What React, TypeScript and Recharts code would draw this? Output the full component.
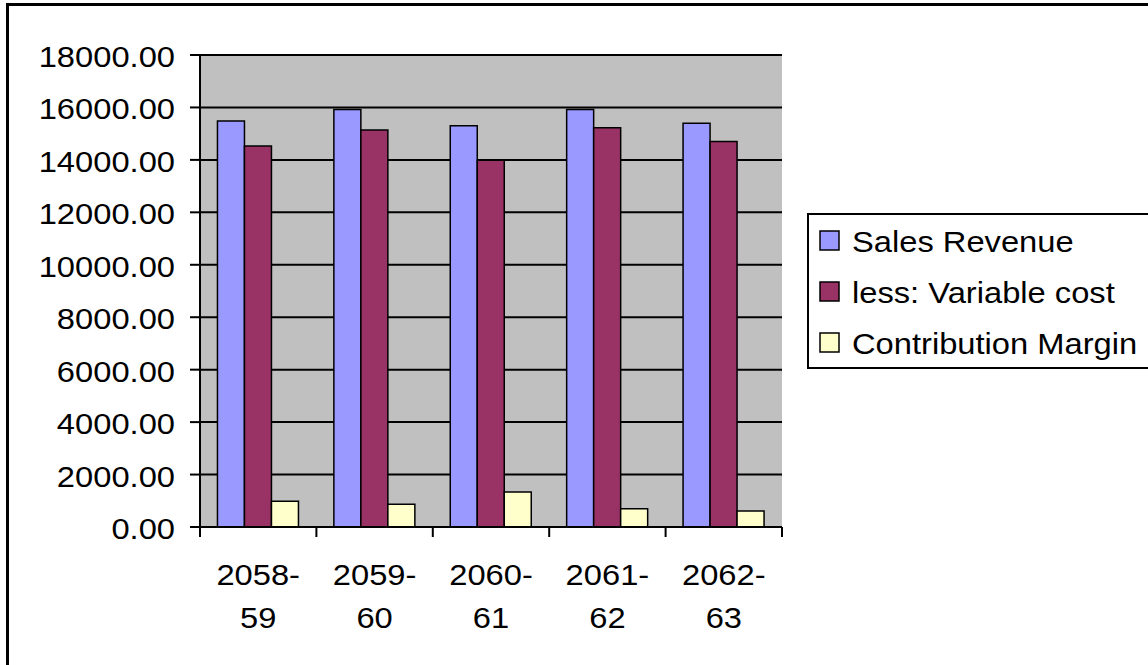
import { BarChart, Bar, XAxis, YAxis, CartesianGrid, Legend } from 'recharts';

const periods = ['2058-59', '2059-60', '2060-61', '2061-62', '2062-63'];
const salesRevenue = [15480, 15920, 15300, 15920, 15400];
const variableCost = [14530, 15140, 13990, 15230, 14700];
const contributionMargin = [980, 870, 1330, 700, 610];
const yTicks = [0, 2000, 4000, 6000, 8000, 10000, 12000, 14000, 16000, 18000];

const series = [
  { key: 'sales', name: 'Sales Revenue', color: '#9999FF' },
  { key: 'variable', name: 'less: Variable cost', color: '#993366' },
  { key: 'margin', name: 'Contribution Margin', color: '#FFFFCC' },
];

const data = periods.map((period, i) => ({
  period,
  sales: salesRevenue[i],
  variable: variableCost[i],
  margin: contributionMargin[i],
}));

const FONT = '"Liberation Sans", Arial, sans-serif';
const STRETCH = 'scale(1.09,1)';

const ValueTick = (props: any) => {
  const { x, y, payload } = props;
  return (
    <g transform={`translate(${x},${y})`}>
      <text x={0} y={0} dy={12} textAnchor="end" fontFamily={FONT} fontSize={30} fill="#000" transform={STRETCH}>
        {Number(payload.value).toFixed(2)}
      </text>
    </g>
  );
};

// ticks sit between categories like in the spreadsheet, labels stay centred
const PeriodTick = (props: any) => {
  const { x, y, payload, index, visibleTicksCount } = props;
  const half = payload.offset || 0;
  const [first, second] = String(payload.value).split('-');
  return (
    <g>
      <line x1={x - half} x2={x - half} y1={y} y2={y + 10} stroke="#000" strokeWidth={2} />
      {index === visibleTicksCount - 1 && (
        <line x1={x + half} x2={x + half} y1={y} y2={y + 10} stroke="#000" strokeWidth={2} />
      )}
      <g transform={`translate(${x},${y})`}>
        <text x={0} y={58} textAnchor="middle" fontFamily={FONT} fontSize={30} fill="#000" transform={STRETCH}>
          {first + '-'}
        </text>
        <text x={0} y={101} textAnchor="middle" fontFamily={FONT} fontSize={30} fill="#000" transform={STRETCH}>
          {second}
        </text>
      </g>
    </g>
  );
};

const renderLegend = (props: any) => {
  const payload = props.payload || [];
  // keep series order (legend sorts by name otherwise)
  const items = series.map((s) => payload.find((p: any) => p.dataKey === s.key) || { value: s.name, color: s.color });
  return (
    <svg width={360} height={156} style={{ display: 'block' }}>
      <rect x={1} y={1} width={400} height={154} fill="#fff" stroke="#000" strokeWidth={2} />
      {items.map((item: any, i: number) => (
        <g key={item.value} transform={`translate(0,${39 + i * 51})`}>
          <rect x={13} y={-21} width={19} height={19} fill={item.color} stroke="#000" strokeWidth={1.5} />
          <g transform="translate(45,0)">
            <text x={0} y={0} fontFamily={FONT} fontSize={30} fill="#000" transform={STRETCH}>
              {item.value}
            </text>
          </g>
        </g>
      ))}
    </svg>
  );
};

export default function App() {
  return (
    <div style={{ position: 'fixed', left: 0, top: 0, width: 1148, height: 665, overflow: 'hidden', background: '#fff' }}>
      <div style={{ position: 'absolute', left: 6, top: 3, width: 1300, height: 800, border: '3px solid #000' }} />
      <div style={{ position: 'absolute', left: 0, top: 0 }}>
        <BarChart
          width={1148}
          height={665}
          data={data}
          margin={{ top: 55, right: 366, bottom: 0, left: 0 }}
          barCategoryGap="15%"
          barGap={0}
        >
          <CartesianGrid vertical={false} fill="#C0C0C0" fillOpacity={1} stroke="#000" strokeWidth={2} />
          <XAxis
            dataKey="period"
            height={138}
            interval={0}
            tickSize={0}
            tickMargin={0}
            tickLine={false}
            axisLine={{ stroke: '#000', strokeWidth: 2 }}
            tick={<PeriodTick />}
          />
          <XAxis
            xAxisId="top"
            orientation="top"
            dataKey="period"
            height={0}
            tick={false}
            tickLine={false}
            axisLine={{ stroke: '#808080', strokeWidth: 2 }}
          />
          <YAxis
            width={200}
            domain={[0, 18000]}
            ticks={yTicks}
            interval={0}
            tickSize={10}
            tickMargin={15}
            axisLine={{ stroke: '#000', strokeWidth: 2 }}
            tickLine={{ stroke: '#000', strokeWidth: 2 }}
            tick={<ValueTick />}
          />
          <YAxis
            yAxisId="right"
            orientation="right"
            width={0}
            domain={[0, 18000]}
            tick={false}
            tickLine={false}
            axisLine={{ stroke: '#808080', strokeWidth: 2 }}
          />
          <Legend
            layout="vertical"
            align="center"
            verticalAlign="middle"
            wrapperStyle={{ left: 807, top: 213, width: 360, height: 156 }}
            content={renderLegend}
          />
          {series.map((s) => (
            <Bar
              key={s.key}
              dataKey={s.key}
              name={s.name}
              fill={s.color}
              stroke="#000"
              strokeWidth={1.5}
              isAnimationActive={false}
            />
          ))}
        </BarChart>
      </div>
    </div>
  );
}
